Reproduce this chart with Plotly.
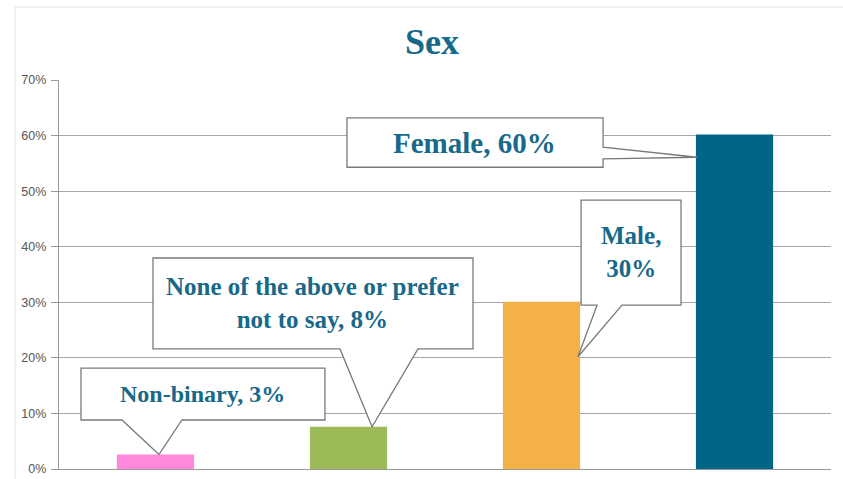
import plotly.graph_objects as go

# Survey results: respondent sex
categories = ["Non-binary", "None of the above or prefer not to say", "Male", "Female"]
values = [2.6, 7.6, 30.1, 60.2]          # percent
bar_colors = ["#FF88DD", "#9BBB59", "#F4B14A", "#006586"]
callout_titles = ["Non-binary, ", "None of the above or prefer<br>not to say, ", "Male,<br>", "Female, "]
y_ticks = [0, 10, 20, 30, 40, 50, 60, 70]
y_tick_labels = [f"{t}%" for t in y_ticks]

LABEL_COLOR = "#17698A"
BORDER = "#7a7a7a"
x_idx = list(range(len(categories)))

fig = go.Figure(go.Bar(
    x=x_idx, y=values, marker=dict(color=bar_colors, line=dict(width=0)),
    width=0.4, hoverinfo="skip", showlegend=False,
))

# Callout geometry (box in axis units, wedge base and tip offsets)
callouts = [
    dict(i=0, box=(-0.386, 0.878, 8.82, 18.17), side="bottom", base=(-0.174, 0.137),
         tip=(0.018, None), text_xy=(0.246, 13.5), size=24),
    dict(i=1, box=(-0.013, 1.645, 21.6, 37.97), side="bottom", base=(0.956, 1.36),
         tip=(0.122, None), text_xy=(0.816, 29.8), size=25),
    dict(i=2, box=(2.205, 2.723, 29.5, 48.4), side="bottom", base=(2.288, 2.417),
         tip=(0.189, 20.2), text_xy=(2.464, 39.0), size=25),
    dict(i=3, box=(0.992, 2.319, 54.3, 63.2), side="right", base=(55.8, 57.9),
         tip=(-0.194, 56.1), text_xy=(1.655, 58.75), size=29),
]

shapes = []
annotations = []
for c in callouts:
    i = c["i"]
    x0, x1, y0, y1 = c["box"]
    tx = i + c["tip"][0]
    ty = values[i] if c["tip"][1] is None else c["tip"][1]
    a, b = c["base"]
    if c["side"] == "bottom":
        path = (f"M {x0},{y1} L {x1},{y1} L {x1},{y0} L {b},{y0} L {tx},{ty} "
                f"L {a},{y0} L {x0},{y0} Z")
    else:
        path = (f"M {x0},{y1} L {x1},{y1} L {x1},{b} L {tx},{ty} L {x1},{a} "
                f"L {x1},{y0} L {x0},{y0} Z")
    shapes.append(dict(type="path", path=path, xref="x", yref="y", layer="above",
                       fillcolor="white", line=dict(color=BORDER, width=1.3)))
    label = f"{callout_titles[i]}{round(values[i])}%"
    annotations.append(dict(
        x=c["text_xy"][0], y=c["text_xy"][1], xref="x", yref="y", text=f"<b>{label}</b>",
        showarrow=False, align="center",
        font=dict(family="Liberation Serif, DejaVu Serif, serif", size=c["size"], color=LABEL_COLOR),
    ))

fig.update_layout(
    width=843, height=479,
    margin=dict(l=59, r=12, t=80, b=10, autoexpand=False),
    paper_bgcolor="white", plot_bgcolor="white",
    title=dict(text="<b>Sex</b>", x=0.483, xref="paper", xanchor="center",
               y=1 - 41 / 479, yref="container", yanchor="middle",
               font=dict(family="Liberation Serif, DejaVu Serif, serif", size=36, color="#17698A")),
    xaxis=dict(range=[-0.5, 3.5], showticklabels=False, showgrid=False, zeroline=False,
               showline=True, linecolor="#9a9a9a", linewidth=1.3, ticks="", fixedrange=True,
               automargin=False),
    yaxis=dict(range=[0, 70], tickvals=y_ticks, ticktext=y_tick_labels,
               showgrid=True, gridcolor="#a6a6a6", gridwidth=1, zeroline=False,
               showline=True, linecolor="#9a9a9a", linewidth=1.3, automargin=False,
               ticks="outside", ticklen=7, tickcolor="#9a9a9a", ticklabelstandoff=2,
               tickfont=dict(family="Liberation Sans, Arial, sans-serif", size=12.5, color="#555555")),
    shapes=shapes,
    annotations=annotations,
)

# light outer frame lines
fig.add_shape(type="line", xref="paper", yref="paper", x0=(15 - 59) / 772, x1=(843 - 59) / 772,
              y0=(469 - 7) / 389, y1=(469 - 7) / 389, line=dict(color="#ececec", width=1.5))
fig.add_shape(type="line", xref="paper", yref="paper", x0=(15 - 59) / 772, x1=(15 - 59) / 772,
              y0=(469 - 7) / 389, y1=(469 - 479) / 389, line=dict(color="#ececec", width=1.5))

fig.write_html("out.html")
